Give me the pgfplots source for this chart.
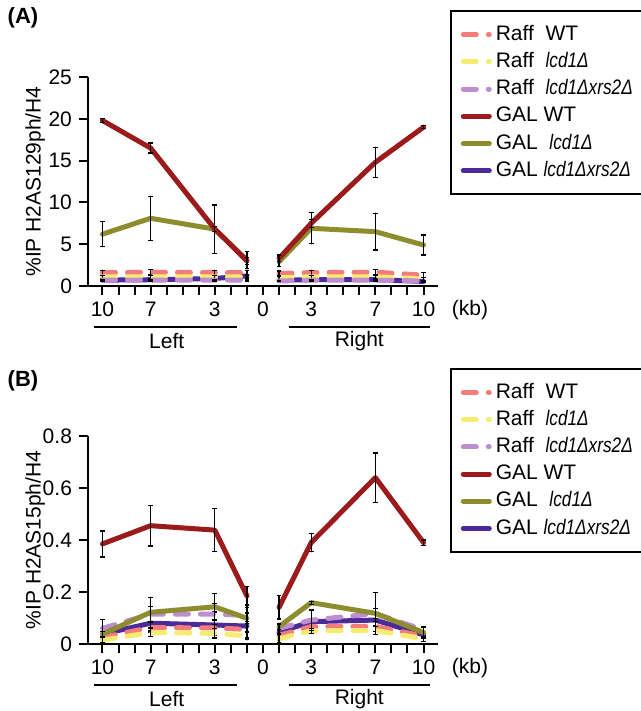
\documentclass[border=0pt]{standalone}
\usepackage{fontspec}
\setmainfont{Liberation Sans}
\usepackage{graphicx}
\usepackage{pgfplots}
\usepackage{pgfplotstable}
\pgfplotsset{compat=1.18}

\definecolor{rwc}{HTML}{F47C7C}
\definecolor{rlc}{HTML}{F6EC70}
\definecolor{rlxc}{HTML}{BE8ECE}
\definecolor{gwc}{HTML}{9B1A1C}
\definecolor{glc}{HTML}{8E8D2D}
\definecolor{glxc}{HTML}{4B2A9A}

\newcommand{\gene}[1]{\scalebox{0.82}[1]{\itshape #1}}

% (A) %IP H2AS129ph/H4, x in kb (left negative), nan row breaks the line at 0
\pgfplotstableread{
x   rw   rwe  rl   rle  rlx  rlxe gw   gwe  gl   gle  glx  glxe
-10 1.6  0.3  1.1  0.2  0.7  0.1  19.8 0.2  6.2  1.5  0.7  0.1
-7  1.65 0.3  1.1  0.2  0.7  0.1  16.5 0.6  8.1  2.65 0.75 0.1
-3  1.6  0.3  1.1  0.2  0.7  0.1  6.8  0.3  6.8  2.9  0.9  0.1
-1  1.6  0.3  1.1  0.2  0.7  0.1  3.0  0.4  3.1  1.0  1.2  0.2
0   nan  nan  nan  nan  nan  nan  nan  nan  nan  nan  nan  nan
1   1.5  0.3  1.0  0.2  0.6  0.1  3.3  0.4  2.9  0.6  0.7  0.1
3   1.6  0.3  1.1  0.2  0.7  0.1  7.5  0.5  6.9  1.85 0.75 0.1
7   1.65 0.3  1.1  0.2  0.7  0.1  14.8 1.8  6.5  2.2  0.75 0.1
10  1.3  0.3  0.85 0.2  0.6  0.1  19.0 0.15 4.9  1.2  0.55 0.1
}\tabA

% (B) %IP H2AS15ph/H4
\pgfplotstableread{
x   rw    rwe   rl    rle   rlx   rlxe  gw    gwe   gl    gle   glx   glxe
-10 0.026 0.01  0.015 0.01  0.06  0.035 0.385 0.05  0.038 0.01  0.038 0.01
-7  0.063 0.02  0.044 0.015 0.115 0.03  0.455 0.078 0.122 0.058 0.08  0.03
-3  0.062 0.03  0.041 0.02  0.115 0.04  0.438 0.082 0.143 0.05  0.073 0.05
-1  0.056 0.03  0.031 0.015 0.11  0.03  0.185 0.035 0.099 0.05  0.069 0.05
0   nan   nan   nan   nan   nan   nan   nan   nan   nan   nan   nan   nan
1   0.033 0.02  0.02  0.015 0.06  0.02  0.141 0.045 0.067 0.01  0.045 0.025
3   0.067 0.02  0.051 0.01  0.092 0.04  0.39  0.035 0.159 0.006 0.086 0.045
7   0.068 0.02  0.052 0.015 0.117 0.08  0.64  0.095 0.118 0.02  0.092 0.02
10  0.03  0.01  0.02  0.01  0.054 0.012 0.39  0.01  0.044 0.02  0.035 0.01
}\tabB

\pgfplotsset{
  panel/.style={
    scale only axis, width=175pt,
    xmin=-10.9, xmax=10.9, ymin=0,
    axis x line*=bottom, axis y line*=left,
    axis line style={line width=1pt,-},
    xtick={-10,...,10},
    xticklabels={10,,,7,,,,3,,,0,,,3,,,,7,,,10},
    tick align=outside, major tick length=4.5pt,
    tick style={line width=1pt,black},
    tick label style={font=\fontsize{10.5}{12}\selectfont},
    /pgf/number format/assume math mode=true,
    ylabel style={font=\fontsize{10.5}{12}\selectfont, at={(axis description cs:-0.151,0.5)}, anchor=center},
    clip=false, unbounded coords=jump,
    legend cell align=left,
    legend image code/.code={\draw[##1] (1.25pt,0pt) -- (14.25pt,0pt);},
    legend style={anchor=north west, draw=black, line width=0.9pt, fill=white,
      font=\fontsize{10.5}{12}\selectfont, inner xsep=5pt, inner ysep=5.5pt, row sep=1pt,
      nodes={text height=7.8pt, text depth=2.2pt, inner ysep=1.3pt},
      /tikz/every even column/.append style={column sep=3.5pt}},
  },
  raff/.style={line width=2.5pt, line cap=round, dash pattern=on 6.5pt off 6pt},
  gal/.style={line width=2.5pt, line cap=round, line join=round},
  err/.style={error bars/y dir=both, error bars/y explicit,
    error bars/error bar style={solid,black,line width=0.6pt},
    error bars/error mark options={rotate=90,mark size=1.2pt,solid,black,line width=0.6pt}},
}

\newcommand{\legendrows}{%
  \addlegendimage{raff,rwc}\addlegendentry{Raff\ \ WT}
  \addlegendimage{raff,rlc}\addlegendentry{Raff\ \ \gene{lcd1Δ}}
  \addlegendimage{raff,rlxc}\addlegendentry{Raff\ \ \gene{lcd1Δxrs2Δ}}
  \addlegendimage{gal,gwc}\addlegendentry{GAL WT}
  \addlegendimage{gal,glc}\addlegendentry{GAL\ \ \gene{lcd1Δ}}
  \addlegendimage{gal,glxc}\addlegendentry{GAL \gene{lcd1Δxrs2Δ}}
}

\newcommand{\series}[1]{%
  \addplot[gal,glxc,err,forget plot] table[x=x,y=glx,y error=glxe] {#1};
  \addplot[raff,rwc,err,forget plot] table[x=x,y=rw,y error=rwe] {#1};
  \addplot[raff,rlc,err,forget plot] table[x=x,y=rl,y error=rle] {#1};
  \addplot[raff,rlxc,err,forget plot] table[x=x,y=rlx,y error=rlxe] {#1};
  \addplot[gal,glc,err,forget plot] table[x=x,y=gl,y error=gle] {#1};
  \addplot[gal,gwc,err,forget plot] table[x=x,y=gw,y error=gwe] {#1};
}

\newcommand{\sides}{%
  \draw[line width=0.8pt] ([yshift=-20.5pt]axis cs:-10.5,0) -- ([yshift=-20.5pt]axis cs:-1.6,0);
  \draw[line width=0.8pt] ([yshift=-20.5pt]axis cs:1.6,0) -- ([yshift=-20.5pt]axis cs:10.4,0);
  \node[font=\fontsize{10.5}{12}\selectfont] at ([yshift=-27.5pt]axis cs:-6,0) {Left};
  \node[font=\fontsize{10.5}{12}\selectfont] at ([yshift=-27.5pt]axis cs:6,0) {Right};
  \node[font=\fontsize{10.5}{12}\selectfont] at ([xshift=16pt,yshift=-12pt]axis cs:10.9,0) {(kb)};
}

\begin{document}
\begin{tikzpicture}
\useasboundingbox (0,0) rectangle (320.5pt,355.5pt);

\begin{axis}[panel, at={(44pt,212.5pt)}, anchor=south west, height=104.5pt,
  ymax=25, ytick={0,5,10,15,20,25},
  ylabel={\%IP H2AS129ph/H4},
  legend style={at={(axis description cs:1.034,1.32)}}]
\legendrows
\series{\tabA}
\sides
\end{axis}

\begin{axis}[panel, at={(44pt,33.5pt)}, anchor=south west, height=104pt,
  ymax=0.8, ytick={0,0.2,0.4,0.6,0.8}, yticklabels={0,0.2,0.4,0.6,0.8},
  ylabel={\%IP H2AS15ph/H4},
  legend style={at={(axis description cs:1.034,1.327)}}]
\legendrows
\series{\tabB}
\sides
\end{axis}

\node[font=\bfseries\fontsize{11}{13}\selectfont] at (11.5pt,346.5pt) {(A)};
\node[font=\bfseries\fontsize{11}{13}\selectfont] at (11.5pt,165pt) {(B)};
\end{tikzpicture}
\end{document}
